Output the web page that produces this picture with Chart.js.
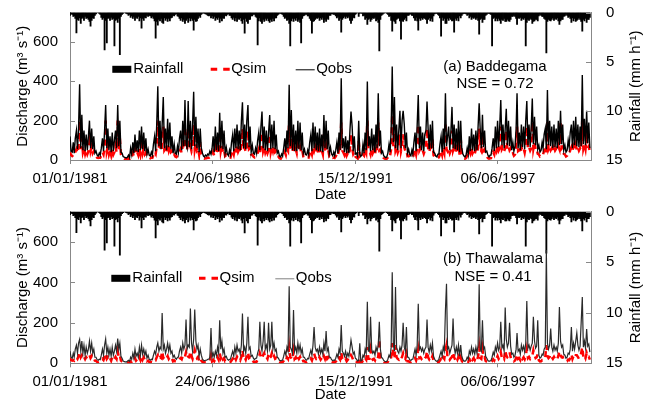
<!DOCTYPE html>
<html>
<head>
<meta charset="utf-8">
<script src="https://cdn.jsdelivr.net/npm/chart.js@4.4.1/dist/chart.umd.min.js"></script>
<style>
  html, body { margin: 0; padding: 0; background: #fff; overflow: hidden; }
  #wrap { position: relative; width: 649px; height: 401px; }
  canvas { position: absolute; left: 0; }
  #chartA { top: 0; }
  #chartB { top: 200px; }
</style>
</head>
<body>
<div id="wrap">
  <canvas id="chartA" width="649" height="203"></canvas>
  <canvas id="chartB" width="649" height="203"></canvas>
</div>
<script>
// samples on the 1st and 16th of each month, 1981-2000
const years = [1981, 2000];
const sampleDaysOfMonth = [1, 16];
const xTickDays = [0, 2000, 4000, 6000];   // days since 01/01/1981
const dischargeTicks = [0, 200, 400, 600];

// rainfall (mm h-1), same for both stations
const rain = [
  0.3,0.15,0.2,0.4,0.35,0.6,2.07,0.7,0.8,0.55,1.1,0.6,0.5,0.8,0.4,0.6,0.55,0.7,0.9,1.4,0.8,0.55,0.6,0.3,
  0.15,0.0,0.05,0.1,0.2,0.5,0.7,0.55,3.8,0.8,3.1,0.6,0.55,0.8,0.5,0.7,0.6,3.4,0.8,0.7,1.0,0.6,4.3,0.4,
  0.2,0.1,0.0,0.05,0.1,0.15,0.3,0.2,0.5,0.35,0.6,0.4,0.8,0.5,0.6,0.4,0.85,0.55,1.6,0.6,0.8,0.5,0.55,0.3,
  0.4,0.3,0.35,0.55,0.4,0.6,0.85,2.6,0.9,1.3,0.7,0.85,0.6,1.0,1.1,0.55,0.8,0.6,0.9,0.6,0.85,0.55,0.5,0.3,
  0.35,0.2,0.15,0.35,0.4,0.6,0.8,0.55,0.9,0.7,1.1,0.8,0.6,1.0,0.55,0.85,0.6,0.8,1.8,0.7,0.9,0.85,0.6,0.35,
  0.5,0.2,0.1,0.05,0.1,0.15,0.2,0.3,0.35,0.3,0.55,0.35,0.6,0.4,0.8,0.55,0.7,0.5,1.0,0.6,0.85,0.55,0.6,0.3,
  0.35,0.2,0.15,0.3,0.3,0.55,0.7,0.5,0.85,0.55,0.9,0.6,0.7,0.55,0.85,1.1,0.7,2.1,0.6,0.9,1.1,0.7,0.7,0.35,
  0.35,0.2,0.2,0.4,0.5,3.3,0.85,0.55,0.9,1.1,0.7,0.9,0.6,0.8,0.6,0.85,1.0,0.7,0.9,0.6,0.85,0.55,0.55,0.3,
  0.2,0.1,0.1,0.15,0.2,0.4,0.6,0.5,0.8,0.7,1.1,3.4,0.85,0.6,0.9,0.6,0.8,0.55,0.9,0.7,1.0,3.1,0.6,0.35,
  0.3,0.2,0.2,0.35,0.35,0.6,0.8,2.1,0.9,0.85,0.7,0.55,0.6,0.5,0.8,0.55,0.7,0.5,1.0,0.7,0.9,0.6,0.7,0.3,
  0.3,0.15,0.15,0.2,0.2,0.35,0.55,0.4,0.8,0.6,2.0,0.7,0.55,0.4,0.6,0.4,0.55,0.4,0.8,1.1,0.8,0.5,0.55,0.2,
  0.1,0.0,0.4,0.1,0.05,0.1,0.35,0.3,0.7,0.55,1.2,0.7,0.6,0.9,0.7,0.55,0.6,0.5,0.85,0.7,1.0,3.9,0.7,0.3,
  0.2,0.1,0.05,0.0,0.1,0.2,0.4,0.35,0.8,1.9,0.8,0.9,1.1,0.7,0.6,0.55,0.85,2.7,0.8,0.9,0.7,0.55,0.85,0.3,
  0.3,0.2,0.15,0.3,0.3,0.55,0.8,0.5,0.85,1.8,0.6,0.8,0.55,0.7,0.55,0.6,0.7,1.1,0.7,0.55,0.85,0.6,0.9,0.35,
  0.15,0.1,0.1,0.2,0.3,0.55,2.4,0.5,0.8,0.6,1.1,1.1,0.6,0.8,0.55,0.7,0.85,0.8,2.0,0.6,0.8,0.55,0.85,0.35,
  0.55,0.3,0.15,0.1,0.1,0.15,0.3,0.2,0.55,0.4,0.7,0.5,0.6,0.5,0.7,0.55,0.8,2.2,0.7,0.6,1.0,0.7,0.7,0.3,
  0.2,0.1,0.1,0.15,0.2,3.4,0.6,0.5,0.85,0.6,0.85,0.6,0.8,1.1,0.7,0.8,0.6,0.9,0.9,0.7,0.85,0.9,0.7,0.4,
  0.4,0.3,0.4,0.6,1.2,0.55,0.6,0.5,0.8,0.6,0.7,0.55,3.4,1.0,0.7,0.8,0.6,0.7,1.1,0.9,0.85,0.7,0.7,0.85,
  0.35,0.2,0.3,0.4,0.4,0.6,0.7,4.1,0.9,0.7,0.8,0.85,0.7,0.55,0.8,0.6,0.7,0.55,0.85,1.2,0.85,0.7,0.7,0.4,
  0.35,0.2,0.3,0.5,0.4,0.6,1.0,0.55,0.85,0.6,0.9,0.8,0.7,0.55,0.7,0.9,1.9,0.7,0.85,0.6,1.0,0.7,0.7,0.5
];

// (a) Baddegama discharge (m3 s-1)
const qobsA = [
  120,45,40,90,35,110,150,55,160,385,60,230,50,150,45,130,50,120,200,60,160,55,120,35,
  45,25,20,35,25,60,110,45,150,280,60,160,50,120,40,140,45,100,150,60,280,70,200,40,
  35,18,14,12,10,14,25,12,60,30,90,35,130,45,100,40,150,50,170,55,140,45,110,30,
  55,25,20,40,25,80,120,45,180,375,70,200,55,180,320,60,160,50,210,65,190,55,120,35,
  80,35,30,70,40,110,150,50,200,70,305,80,60,300,65,200,55,180,347,70,220,60,160,40,
  160,60,35,20,16,25,20,30,25,45,30,60,120,40,170,50,140,45,240,60,200,55,150,35,
  65,30,22,50,30,90,130,45,160,60,180,55,150,50,200,293,60,180,55,200,280,65,170,40,
  75,35,30,60,35,100,140,50,170,246,60,170,50,150,45,140,229,55,180,60,200,55,130,35,
  45,20,16,30,20,60,110,40,150,60,382,70,254,50,180,45,150,45,200,55,190,50,140,35,
  55,28,25,50,30,90,130,45,190,60,170,50,140,45,160,45,130,40,229,60,200,55,150,35,
  65,30,22,40,22,50,90,35,140,50,416,60,110,40,120,35,100,35,150,246,170,45,120,30,
  35,20,200,30,18,25,80,35,140,50,399,70,120,45,160,50,130,40,180,60,339,70,150,35,
  45,22,16,12,16,35,80,40,150,475,90,320,60,180,50,150,250,60,200,250,180,60,140,35,
  55,28,22,50,30,90,140,45,180,331,60,170,50,140,45,130,150,297,160,55,180,60,200,40,
  35,20,16,30,30,80,120,40,160,55,339,70,120,170,50,140,270,60,180,55,160,50,200,40,
  200,60,30,20,16,25,60,30,120,45,160,50,130,45,150,50,170,289,150,60,230,65,150,40,
  45,25,16,25,25,60,110,45,170,60,200,65,170,305,75,180,60,160,260,75,200,70,170,50,
  90,45,70,160,339,60,140,50,180,65,170,55,200,300,75,180,65,170,313,80,220,75,170,55,
  75,40,50,90,60,130,160,55,356,75,200,70,170,60,180,65,160,60,200,75,250,80,180,50,
  75,40,50,100,65,140,180,60,200,75,220,70,180,65,170,70,432,80,210,75,250,85,190,60
];
const qsimA = [
  40,25,20,25,20,40,55,35,70,200,55,110,40,60,30,50,30,45,90,45,70,35,45,20,
  20,12,10,12,12,22,40,28,60,200,45,70,30,50,25,60,28,40,70,40,200,55,110,28,
  15,8,5,4,4,5,8,6,20,15,35,18,55,28,40,25,60,30,75,35,60,30,40,18,
  22,12,9,12,11,25,40,30,70,200,55,80,45,65,170,50,60,35,80,50,75,40,45,20,
  28,18,15,22,22,40,55,35,75,55,170,60,50,160,55,70,45,65,180,55,90,50,60,28,
  90,30,15,9,7,9,9,12,11,15,12,18,40,22,65,35,55,30,140,45,75,38,50,20,
  25,15,11,15,13,32,45,28,60,38,70,42,55,35,75,160,50,65,40,75,150,55,60,28,
  28,18,13,18,17,35,55,32,70,140,45,65,38,55,35,50,130,40,65,45,75,40,45,20,
  18,9,7,9,8,22,40,25,55,45,200,55,140,40,65,38,55,35,75,45,65,38,50,20,
  22,12,11,15,13,32,45,28,65,45,65,38,55,32,60,35,50,30,130,45,75,40,50,20,
  25,13,11,12,10,18,32,22,55,38,190,48,38,25,45,22,35,25,55,130,60,30,40,18,
  13,8,100,13,8,10,28,22,55,38,200,55,45,28,60,35,50,28,65,45,190,50,55,20,
  18,10,7,5,7,14,28,22,55,230,70,170,48,65,38,55,130,45,70,130,65,45,50,20,
  22,12,10,15,13,32,50,28,65,180,48,60,38,50,32,48,55,160,60,38,65,45,110,25,
  13,8,7,10,13,28,45,25,60,38,190,55,45,60,35,50,150,48,65,38,58,35,110,25,
  110,28,13,8,7,10,22,13,45,32,60,35,48,32,55,35,60,160,55,45,130,48,55,25,
  18,10,7,9,10,22,40,28,60,45,75,48,60,170,55,65,45,60,150,55,70,50,60,32,
  35,22,28,60,170,45,50,32,65,48,60,38,70,170,55,65,48,60,195,58,90,55,60,32,
  28,18,22,32,28,48,60,38,200,55,70,50,60,45,65,48,58,45,70,55,190,58,65,32,
  28,18,22,35,32,50,65,45,70,55,80,50,65,48,60,50,210,58,80,55,110,60,70,38
];

// (b) Thawalama discharge (m3 s-1)
const qobsB = [
  60,30,25,50,30,70,90,50,100,118,60,110,50,90,40,80,50,70,110,60,100,50,70,30,
  30,18,15,20,18,40,70,40,90,120,50,80,40,70,35,80,40,60,90,60,123,70,100,35,
  25,12,8,7,6,10,15,10,30,20,50,25,70,35,50,30,80,40,90,45,70,40,60,25,
  40,20,15,20,18,40,60,45,80,100,60,80,70,249,70,90,50,70,100,60,90,50,60,30,
  40,25,20,30,30,60,80,50,100,70,90,216,70,90,80,271,100,60,120,266,110,70,90,35,
  70,40,20,15,12,15,15,20,20,30,174,30,50,30,60,40,80,50,213,70,110,50,70,30,
  35,20,15,20,20,40,60,35,80,50,90,60,70,45,90,246,60,80,50,100,230,70,80,35,
  40,25,18,25,25,50,70,205,90,60,110,205,70,90,60,200,70,90,205,70,100,60,70,30,
  25,15,12,15,15,35,60,40,80,60,381,80,70,50,263,60,80,50,100,60,90,50,70,30,
  30,18,15,25,22,45,65,40,90,180,80,60,70,45,80,50,70,45,100,60,160,60,75,30,
  30,18,14,16,14,25,45,30,70,50,189,60,50,35,60,30,50,35,70,115,80,45,55,25,
  20,12,15,99,12,14,40,30,70,50,304,60,60,230,70,50,60,40,80,60,90,205,70,30,
  25,14,10,8,10,20,40,30,80,451,90,60,377,80,60,50,80,60,90,200,80,60,180,30,
  30,18,14,20,20,45,70,40,90,295,70,80,60,75,50,70,80,217,80,55,90,60,100,35,
  20,12,10,14,20,40,60,35,80,60,262,394,70,80,50,70,90,222,80,50,80,50,90,35,
  90,35,18,12,10,14,30,20,60,45,80,50,70,45,80,50,90,391,70,60,213,70,80,35,
  25,14,10,12,14,30,55,40,80,60,100,65,80,205,75,90,60,276,120,80,100,200,85,45,
  50,30,40,70,150,60,70,45,90,65,85,55,100,308,75,90,65,85,100,230,110,75,85,213,
  40,25,30,45,40,70,80,560,100,70,90,172,80,60,90,65,80,60,100,279,110,80,90,45,
  40,25,30,50,45,70,180,60,100,70,110,150,90,65,85,200,328,80,110,75,170,85,95,55
];
const qsimB = [
  26,16,13,16,13,22,30,22,36,55,30,40,22,32,20,30,22,26,40,26,36,22,26,13,
  12,7,5,7,7,13,22,16,32,50,22,30,16,26,13,30,16,22,32,22,60,30,40,14,
  9,5,3,2,2,3,5,3,10,8,16,10,26,13,20,12,30,16,36,18,30,16,22,10,
  13,7,5,7,6,13,20,16,30,40,22,30,26,60,26,32,20,26,36,22,32,20,22,10,
  14,9,7,10,10,20,26,20,36,26,32,55,26,32,30,60,36,22,42,65,40,26,32,13,
  26,14,7,5,4,5,5,7,7,10,40,10,18,10,22,14,30,18,50,26,40,20,26,10,
  12,7,5,7,7,14,22,13,30,18,32,22,26,16,32,65,22,30,18,36,55,26,30,12,
  13,8,6,8,8,18,26,50,32,22,40,50,26,32,22,45,26,32,50,26,36,22,26,10,
  8,5,3,5,5,12,22,14,30,22,80,30,26,18,60,22,30,18,36,22,32,18,26,10,
  10,6,5,8,7,16,24,14,32,50,30,22,26,16,30,18,26,16,36,22,45,22,28,10,
  10,6,4,5,4,8,16,10,26,18,55,22,18,12,22,10,18,12,26,40,30,16,20,8,
  7,4,5,30,4,5,13,10,26,18,80,22,22,65,26,18,22,14,30,22,32,120,26,10,
  8,5,3,2,3,7,14,10,30,100,32,22,90,30,22,18,30,22,32,50,30,22,45,10,
  10,6,4,7,7,16,26,14,32,70,26,30,22,28,18,26,30,60,30,20,32,22,36,12,
  7,4,3,5,7,14,22,12,30,22,65,90,26,30,18,26,32,55,30,18,30,18,32,12,
  30,12,6,4,3,5,10,7,22,16,30,18,26,16,30,18,32,80,26,22,70,26,30,12,
  8,5,3,4,5,10,20,14,30,22,36,22,30,55,26,32,22,65,40,30,36,55,30,16,
  18,10,14,26,45,22,26,16,32,22,30,20,36,70,26,32,22,30,36,65,40,26,30,45,
  14,9,10,16,14,26,30,90,36,26,32,45,30,22,32,22,30,22,36,60,40,30,32,16,
  14,9,10,18,16,26,45,22,36,26,40,40,32,22,30,50,80,30,40,26,50,30,32,18
];

const DAY = 86400000;
const START = Date.UTC(1981, 0, 1);
const sampleDays = [];
for (let yr = years[0]; yr <= years[1]; yr++) {
  for (let m = 0; m < 12; m++) {
    sampleDaysOfMonth.forEach(d => sampleDays.push((Date.UTC(yr, m, d) - START) / DAY));
  }
}
const pts = vals => vals.map((v, i) => ({ x: sampleDays[i], y: v }));

function fmtDate(days) {
  const t = new Date(START + days * DAY);
  const p = n => String(n).padStart(2, '0');
  return p(t.getUTCDate()) + '/' + p(t.getUTCMonth() + 1) + '/' + t.getUTCFullYear();
}

const FONT_FAMILY = '"Liberation Sans", Arial, sans-serif';
const FONT = '15px ' + FONT_FAMILY;
Chart.defaults.font.family = FONT_FAMILY;
Chart.defaults.font.size = 15;
Chart.defaults.color = '#000';

// keep the plot box where we put it: no extra room for edge labels
const noEdgePad = s => { s.paddingTop = 0; s.paddingBottom = 0; };

// inward y ticks, right axis title, in-plot legend and station labels
const panelDeco = {
  id: 'panelDeco',
  afterDraw(chart, args, o) {
    const ctx = chart.ctx, a = chart.chartArea;
    const line = (x1, y1, x2, y2) => { ctx.beginPath(); ctx.moveTo(x1, y1); ctx.lineTo(x2, y2); ctx.stroke(); };
    ctx.save();
    ctx.strokeStyle = '#888';
    ctx.lineWidth = 1;
    chart.scales.y.ticks.forEach(t => {
      const p = Math.round(chart.scales.y.getPixelForValue(t.value)) + 0.5;
      line(a.left, p, a.left + 5, p);
    });
    chart.scales.y2.ticks.forEach(t => {
      const p = Math.round(chart.scales.y2.getPixelForValue(t.value)) + 0.5;
      line(a.right - 5, p, a.right, p);
    });

    ctx.font = FONT;
    ctx.fillStyle = '#000';
    ctx.textBaseline = 'middle';

    // right axis title reads bottom to top
    ctx.save();
    ctx.translate(636, (a.top + a.bottom) / 2);
    ctx.rotate(-Math.PI / 2);
    ctx.textAlign = 'center';
    ctx.fillText(o.rightTitle, 0, 0);
    ctx.restore();

    const L = o.legend, ds = chart.data.datasets;
    ctx.textAlign = 'left';
    ctx.fillRect(L.rainX, L.y - 3.5, 19, 7);
    ctx.fillText(ds[0].label, L.rainX + 21, L.y);
    ctx.strokeStyle = '#ff0000';
    ctx.lineWidth = 3;
    ctx.setLineDash([6.5, 6]);
    line(L.simX, L.y, L.simX + 19.5, L.y);
    ctx.setLineDash([]);
    ctx.fillText(ds[2].label, L.simX + 20.5, L.y);
    ctx.strokeStyle = L.obsColor;
    ctx.lineWidth = 1;
    line(L.obsX, L.y + 0.5, L.obsX + 19, L.y + 0.5);
    ctx.fillText(ds[1].label, L.obsX + 20.5, L.y);

    ctx.textAlign = 'center';
    o.notes.forEach(n => ctx.fillText(n.text, n.x, n.y));
    ctx.restore();
  }
};

function makePanel(id, obs, sim, opt) {
  return new Chart(document.getElementById(id), {
    type: 'line',
    data: {
      datasets: [
        { type: 'bar', label: 'Rainfall', data: pts(rain), yAxisID: 'y2', backgroundColor: '#000',
          borderWidth: 0, barThickness: 1.2, grouped: false, order: 3 },
        { label: 'Qobs', data: pts(obs), yAxisID: 'y', borderColor: opt.obsColor, borderWidth: opt.obsWidth,
          pointRadius: 0, tension: 0, order: 1 },
        { label: 'Qsim', data: pts(sim), yAxisID: 'y', borderColor: '#ff0000', borderWidth: 2.5,
          borderDash: [6, 5], pointRadius: 0, tension: 0, order: 2 }
      ]
    },
    options: {
      responsive: false,
      animation: false,
      devicePixelRatio: 1,
      layout: { padding: { top: opt.top, left: 0, right: 0, bottom: 0 } },
      plugins: {
        legend: { display: false },
        tooltip: { enabled: false },
        panelDeco: { legend: opt.legend, notes: opt.notes, rightTitle: 'Rainfall (mm h⁻¹)' }
      },
      scales: {
        x: {
          type: 'linear', min: 0, max: 7305, offset: false,
          afterBuildTicks: s => { s.ticks = xTickDays.map(v => ({ value: v })); },
          afterFit: s => { s.height = opt.xHeight; },
          ticks: { callback: v => fmtDate(v), padding: 6, maxRotation: 0, autoSkip: false },
          grid: { display: true, offset: false, drawOnChartArea: false, drawTicks: true, tickLength: 4, color: '#888' },
          border: { display: true, color: '#888' },
          title: { display: true, text: 'Date', padding: { top: 0, bottom: -1 } }
        },
        y: {
          position: 'left', min: 0, max: 750,
          afterBuildTicks: s => { s.ticks = dischargeTicks.map(v => ({ value: v })); },
          afterFit: s => { s.width = 70; noEdgePad(s); },
          ticks: { padding: 12 },
          grid: { display: false, drawTicks: false },
          border: { display: true, color: '#888' },
          title: { display: true, text: 'Discharge (m³ s⁻¹)', padding: { top: 14, bottom: 0 } }
        },
        y2: {
          position: 'right', min: 0, max: 15, reverse: true,
          ticks: { stepSize: 5, padding: 15 },
          afterFit: s => { s.width = 58; noEdgePad(s); },
          grid: { display: false, drawTicks: false },
          border: { display: true, color: '#888' },
          title: { display: false }
        }
      }
    },
    plugins: [panelDeco]
  });
}

makePanel('chartA', qobsA, qsimA, {
  top: 12.5, xHeight: 43, obsColor: '#000', obsWidth: 1.4,
  legend: { y: 69.3, rainX: 112.3, simX: 210.7, obsX: 295.7, obsColor: '#000' },
  notes: [{ text: '(a) Baddegama', x: 495, y: 67 }, { text: 'NSE = 0.72', x: 495, y: 83.5 }]
});
makePanel('chartB', qobsB, qsimB, {
  top: 11.7, xHeight: 39.7, obsColor: '#2a2a2a', obsWidth: 1.2,
  legend: { y: 78.3, rainX: 111.3, simX: 199, obsX: 275.3, obsColor: '#808080' },
  notes: [{ text: '(b) Thawalama', x: 493, y: 59 }, { text: 'NSE = 0.41', x: 493, y: 76.7 }]
});
</script>
</body>
</html>
